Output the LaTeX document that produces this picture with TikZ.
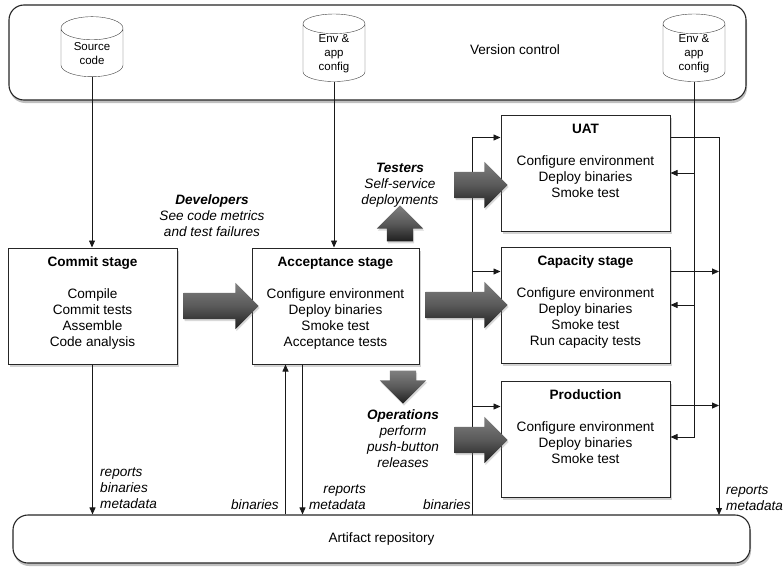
\documentclass[tikz,border=0pt]{standalone}
\usepackage{fontspec}
\setmainfont{Liberation Sans}
\usetikzlibrary{shapes.geometric,shapes.arrows,shadows,arrows.meta,calc}

\newcommand{\stagetext}[3][156pt]{\parbox[c][98pt][t]{#1}{\centering\textbf{#2}\\[16pt]#3}}

\begin{document}
\begin{tikzpicture}[x=1pt,y=-1pt,
    every node/.style={font=\fontsize{13.6}{16}\selectfont},
    stage/.style={draw=black!85, line width=1pt, fill=white, inner xsep=5pt, inner ysep=9pt,
        minimum width=169pt, drop shadow={opacity=0.35, shadow xshift=2pt, shadow yshift=-3pt}},
    store/.style={draw=black!85, line width=1.1pt, fill=white, rounded corners=15pt, inner sep=0pt,
        drop shadow={opacity=0.5, shadow xshift=1pt, shadow yshift=-3pt}},
    repo/.style={cylinder, shape border rotate=90, aspect=0.6, draw=black!75, fill=white,
        minimum width=62pt, minimum height=60pt, inner sep=1pt, align=center,
        font=\fontsize{11.5}{14}\selectfont},
    flow/.style={-{Triangle[length=7pt,width=6pt]}, black!90, line width=0.8pt},
    fatarrow/.style={single arrow, single arrow head extend=10pt, single arrow head indent=0pt,
        inner xsep=0pt, inner ysep=13pt, top color=black!50, bottom color=black!88,
        middle color=black!65, drop shadow={opacity=0.3, shadow xshift=1pt, shadow yshift=-2pt}},
    note/.style={font=\fontsize{13.6}{16}\selectfont\itshape, inner sep=0pt}]
\useasboundingbox (0,0) rectangle (784,578);

\node[store, minimum width=737pt, minimum height=95pt] (vc) at (377.5,52.5) {};
\node (vctext) at (515,50) {Version control};
\node[repo] (src) at (92,54) {Source\\code};
\node[repo] (cfga) at (334,54) {Env \&\\app\\config};
\node[repo] (cfgb) at (694,54) {Env \&\\app\\config};
\node[store, minimum width=737pt, minimum height=48pt] (artifact) at (381.5,539) {Artifact repository};

\node[stage] (commit) at (92.5,306) {\stagetext{Commit stage}{Compile\\Commit tests\\Assemble\\Code analysis}};
\node[stage, minimum width=167pt] (accept) at (335.5,306) {\stagetext{Acceptance stage}{Configure environment\\Deploy binaries\\Smoke test\\Acceptance tests}};
\node[stage] (uat) at (585.5,173) {\stagetext{UAT}{Configure environment\\Deploy binaries\\Smoke test}};
\node[stage] (capacity) at (585.5,305) {\stagetext{Capacity stage}{Configure environment\\Deploy binaries\\Smoke test\\Run capacity tests}};
\node[stage] (prod) at (585.5,439) {\stagetext{Production}{Configure environment\\Deploy binaries\\Smoke test}};

\node[note, align=center] (devnote) at (212,216) {\textbf{Developers}\\See code metrics\\and test failures};
\node[note, align=center] (testnote) at (400,185) {\textbf{Testers}\\Self-service\\deployments};
\node[note, align=center] (opsnote) at (403,439) {\textbf{Operations}\\perform\\push-button\\releases};
\node[note, align=left, anchor=west] (commitnote) at (100,488) {reports\\binaries\\metadata};
\node[note, anchor=east] (accbinnote) at (279,505) {binaries};
\node[note, align=right, anchor=east] (accrepnote) at (366,497.5) {reports\\metadata};
\node[note, anchor=east] (stagebinnote) at (471,505) {binaries};
\node[note, align=left, anchor=west] (stagerepnote) at (726,498) {reports\\metadata};

\coordinate (binfoot) at (472,515);
\coordinate (rptfoot) at (719,515);
\coordinate (uatin) at ([yshift=-23pt]uat.north west);
\coordinate (capin) at ([yshift=-25pt]capacity.north west);
\coordinate (prodin) at ([yshift=-26pt]prod.north west);
\coordinate (uatout) at ([yshift=-23pt]uat.north east);
\coordinate (capout) at ([yshift=-25pt]capacity.north east);
\coordinate (prodout) at ([yshift=-25pt]prod.north east);
\coordinate (accbin) at ([xshift=-50pt]accept.south);
\coordinate (accrep) at ([xshift=-33pt]accept.south);

\draw[flow] (src.south) -- (src.south |- commit.north);
\draw[flow] (cfga.south) -- (cfga.south |- accept.north);
\draw[flow] (cfgb.south) |- ([yshift=2pt]prod.east);
\draw[flow] (cfgb.south |- uat.east) -- (uat.east);
\draw[flow] (cfgb.south |- capacity.east) -- (capacity.east);
\draw[flow] (uatout) -| (rptfoot);
\draw[flow] (capout) -- (capout -| rptfoot);
\draw[flow] (prodout) -- (prodout -| rptfoot);
\draw[flow] (binfoot) |- (uatin);
\draw[flow] (capin -| binfoot) -- (capin);
\draw[flow] (prodin -| binfoot) -- (prodin);
\draw[flow] (commit.south) -- (commit.south |- artifact.north);
\draw[flow] (accbin |- artifact.north) -- (accbin);
\draw[flow] (accrep) -- (accrep |- artifact.north);

\node[fatarrow, minimum height=75pt] (devarrow) at ($(commit.east)!0.5!(accept.west)$) {};
\node[fatarrow, minimum height=82pt] (capacityarrow) at (460,305) {};
\node[fatarrow, minimum height=53pt] (testarrow) at (474.5,185) {};
\node[fatarrow, minimum height=53pt] (opsarrow) at (474.5,440) {};
\node[fatarrow, minimum height=36pt, rotate=90] (uparrow) at (400,230) {};
\node[fatarrow, minimum height=33pt, rotate=-90] (downarrow) at (403,380.5) {};
\end{tikzpicture}
\end{document}
